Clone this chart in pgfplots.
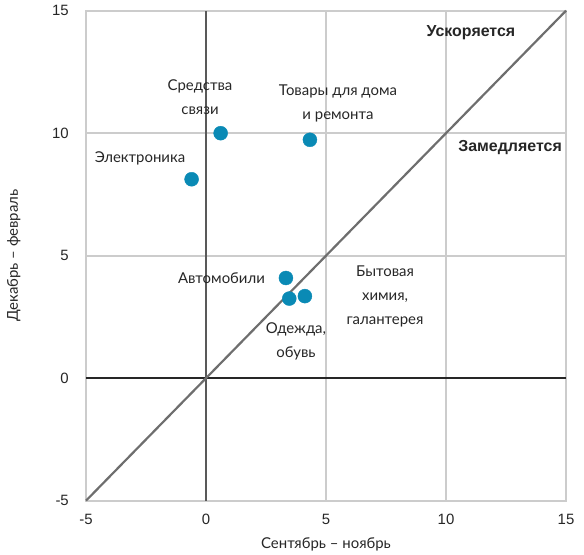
\documentclass[border=0pt]{standalone}
\usepackage{pgfplots}
\pgfplotsset{compat=1.18}
\usepackage{fontspec}
\setmainfont{Liberation Sans}
\newfontfamily\lab{Lato}
\definecolor{dot}{HTML}{0A8AB5}
\definecolor{gridc}{HTML}{CCCCCC}
\definecolor{diag}{HTML}{6E6E6E}
\begin{document}
\begin{tikzpicture}
\begin{axis}[
  scale only axis, width=480bp, height=490bp,
  xmin=-5, xmax=15, ymin=-5, ymax=15,
  xtick={-5,0,5,10,15}, ytick={-5,0,5,10,15},
  grid=major, major grid style={gridc, line width=1.7pt},
  axis line style={gridc, line width=1.7pt},
  tick style={draw=none},
  /pgf/number format/assume math mode=true,
  ticklabel style={font=\fontsize{15}{17}\selectfont, text=black!85},
  yticklabel style={inner sep=0pt, anchor=east, xshift=-17bp},
  xticklabel style={inner sep=0pt, anchor=north, yshift=-13bp},
  xlabel={\lab Сентябрь – ноябрь}, ylabel={\lab Декабрь – февраль},
  label style={font=\fontsize{15}{17}\selectfont, text=black!85},
  xlabel style={at={(axis description cs:0.5,0)}, anchor=north, yshift=-33bp},
  ylabel style={at={(axis description cs:0,0.5)}, anchor=south, yshift=62bp},
  clip=false,
]
\draw[black!65, line width=1.8pt] (axis cs:0,-5) -- (axis cs:0,15);
\draw[black!85, line width=1.8pt] (axis cs:-5,0) -- (axis cs:15,0);
\addplot[diag, line width=2.2pt, no marks] coordinates {(-5,-5) (15,15)};
\addplot[only marks, color=dot, mark=*, mark size=7bp, mark options={fill=dot, draw=dot}] coordinates {
(-0.6,8.12) (0.61,10.0) (4.33,9.73) (3.33,4.09) (3.47,3.25) (4.12,3.35)};
\begin{scope}[every node/.style={font=\lab\fontsize{15}{24}\selectfont, text=black!85, align=center}]
\node at (axis cs:-0.25,11.47) {Средства\\связи};
\node at (axis cs:5.5,11.22) {Товары для дома\\и ремонта};
\node at (axis cs:-2.75,8.98) {Электроника};
\node[anchor=east] at (axis cs:2.6,4.08) {Автомобили};
\node at (axis cs:3.75,1.49) {Одежда,\\обувь};
\node at (axis cs:7.46,3.35) {Бытовая\\химия,\\галантерея};
\end{scope}
\node[font=\bfseries\fontsize{16}{18}\selectfont, text=black!85] at (axis cs:11.04,14.12) {Ускоряется};
\node[font=\bfseries\fontsize{16}{18}\selectfont, text=black!85] at (axis cs:12.67,9.43) {Замедляется};
\end{axis}
\pgfresetboundingbox
\path[use as bounding box] (-86bp,-54.3bp) rectangle (498bp,500.7bp);
\end{tikzpicture}
\end{document}
